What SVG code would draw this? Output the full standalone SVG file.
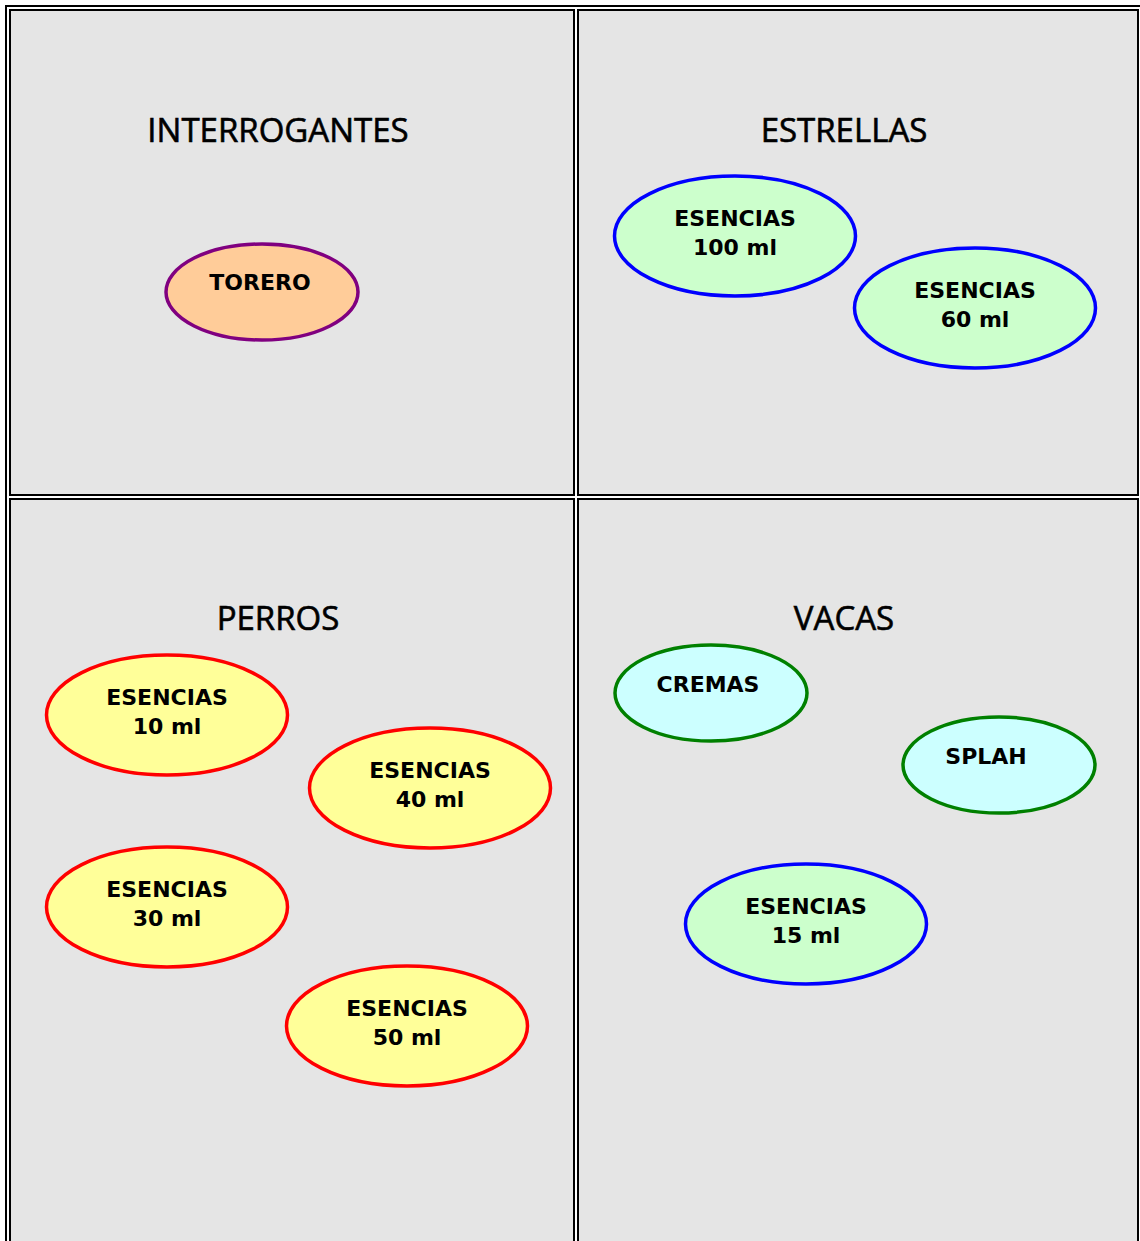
<svg xmlns="http://www.w3.org/2000/svg" width="1140" height="1241" viewBox="0 0 1140 1241">
<style>
.cell{fill:#e5e5e5;stroke:#000;stroke-width:2}
.title{font-family:"Open Sans","DejaVu Sans",sans-serif;font-size:33px;fill:#000;stroke:#000;stroke-width:0.6;text-anchor:middle}
.lbl{font-family:"DejaVu Sans","Liberation Sans",sans-serif;font-weight:bold;font-size:22px;fill:#000;text-anchor:middle}
.e{stroke-width:3.5}
.torero{fill:#ffcc99;stroke:#800080}
.star{fill:#ccffcc;stroke:#0000ff}
.dog{fill:#ffff99;stroke:#ff0000}
.cow{fill:#ccffff;stroke:#008000}
</style>
<rect x="0" y="0" width="1140" height="1241" fill="#fff"/>
<g id="frame">
<path d="M6 1241 V6 H1141" fill="none" stroke="#000" stroke-width="2"/>
<rect class="cell" x="10" y="10" width="564" height="485"/>
<rect class="cell" x="578" y="10" width="560" height="485"/>
<rect class="cell" x="10" y="499" width="564" height="750"/>
<rect class="cell" x="578" y="499" width="560" height="750"/>
</g>
<g id="titles">
<text class="title" x="278" y="142">INTERROGANTES</text>
<text class="title" x="844" y="142">ESTRELLAS</text>
<text class="title" x="278" y="630">PERROS</text>
<text class="title" x="844" y="630">VACAS</text>
</g>
<g id="connectors"/>
<g id="n-torero"><ellipse class="e torero" cx="262" cy="292" rx="96" ry="48"/><text class="lbl" x="260" y="290">TORERO</text></g>
<g id="n-esencias100"><ellipse class="e star" cx="735" cy="236" rx="120.5" ry="60"/><text class="lbl" x="735" y="226">ESENCIAS</text><text class="lbl" x="735" y="255">100 ml</text></g>
<g id="n-esencias60"><ellipse class="e star" cx="975" cy="308" rx="120.5" ry="60"/><text class="lbl" x="975" y="298">ESENCIAS</text><text class="lbl" x="975" y="327">60 ml</text></g>
<g id="n-esencias10"><ellipse class="e dog" cx="167" cy="715" rx="120.5" ry="60"/><text class="lbl" x="167" y="705">ESENCIAS</text><text class="lbl" x="167" y="734">10 ml</text></g>
<g id="n-esencias40"><ellipse class="e dog" cx="430" cy="788" rx="120.5" ry="60"/><text class="lbl" x="430" y="778">ESENCIAS</text><text class="lbl" x="430" y="807">40 ml</text></g>
<g id="n-esencias30"><ellipse class="e dog" cx="167" cy="907" rx="120.5" ry="60"/><text class="lbl" x="167" y="897">ESENCIAS</text><text class="lbl" x="167" y="926">30 ml</text></g>
<g id="n-esencias50"><ellipse class="e dog" cx="407" cy="1026" rx="120.5" ry="60"/><text class="lbl" x="407" y="1016">ESENCIAS</text><text class="lbl" x="407" y="1045">50 ml</text></g>
<g id="n-cremas"><ellipse class="e cow" cx="711" cy="693" rx="96" ry="48"/><text class="lbl" x="708" y="692">CREMAS</text></g>
<g id="n-splah"><ellipse class="e cow" cx="999" cy="765" rx="96" ry="48"/><text class="lbl" x="986" y="764">SPLAH</text></g>
<g id="n-esencias15"><ellipse class="e star" cx="806" cy="924" rx="120.5" ry="60"/><text class="lbl" x="806" y="914">ESENCIAS</text><text class="lbl" x="806" y="943">15 ml</text></g>
</svg>
